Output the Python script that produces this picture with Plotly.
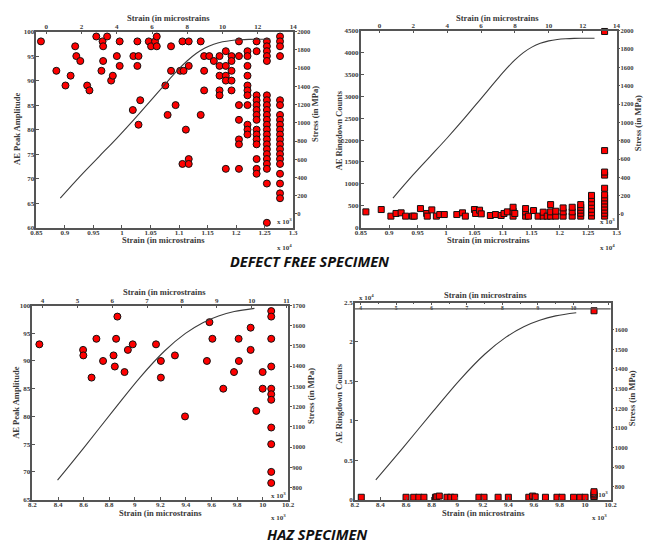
import plotly.graph_objects as go

W, H = 650, 545
def px(x): return x / W
def py(y): return 1 - y / H

# ---------------- DATA ----------------
# Defect free: AE peak amplitude vs strain (x10^4)
df_amp_strain = [0.858, 0.885, 0.901, 0.910, 0.918, 0.920, 0.927, 0.939, 0.943, 0.955,
                 0.964, 0.966, 0.967, 0.967, 0.974, 0.981, 0.984, 0.991, 0.996, 0.996,
                 1.019, 1.020, 1.027, 1.027, 1.029, 1.029, 1.032, 1.047, 1.051, 1.058,
                 1.061, 1.061, 1.076, 1.080, 1.086, 1.086, 1.094, 1.102, 1.106, 1.106,
                 1.108, 1.112, 1.117, 1.117, 1.117, 1.117, 1.138, 1.138, 1.144, 1.144,
                 1.144, 1.153, 1.161,
                 1.171, 1.171, 1.171, 1.171, 1.171,
                 1.182, 1.182, 1.182, 1.182, 1.182,
                 1.192, 1.192, 1.192, 1.192, 1.192,
                 1.205, 1.205, 1.205, 1.205, 1.205, 1.205, 1.205,
                 1.220, 1.220, 1.220, 1.220, 1.220, 1.220, 1.220, 1.220, 1.220, 1.220, 1.220,
                 1.236, 1.236, 1.236, 1.236, 1.236, 1.236, 1.236, 1.236, 1.236, 1.236,
                 1.236, 1.236, 1.236, 1.236, 1.236,
                 1.254, 1.254, 1.254, 1.254, 1.254, 1.254, 1.254, 1.254, 1.254, 1.254,
                 1.254, 1.254, 1.254, 1.254, 1.254, 1.254, 1.254, 1.254, 1.254, 1.254,
                 1.254, 1.254, 1.254,
                 1.277, 1.277, 1.277, 1.277, 1.277, 1.277, 1.277, 1.277, 1.277, 1.277,
                 1.277, 1.277, 1.277, 1.277, 1.277, 1.277, 1.277, 1.277, 1.277, 1.277, 1.277]
df_amp_values = [98, 92, 89, 91, 97, 95, 94, 89, 88, 99,
                 92, 98, 97, 94, 99, 90, 91, 95, 98, 93,
                 84, 95, 98, 93, 95, 81, 86, 98, 97, 98,
                 99, 97, 89, 83, 97, 92, 85, 92, 98, 73,
                 92, 80, 98, 93, 74, 73, 98, 83, 95, 92,
                 88, 95, 94,
                 95, 93, 91, 88, 87,
                 96, 93, 91, 90, 72,
                 95, 94, 92, 90, 88,
                 98, 95, 85, 82, 78, 77, 72,
                 96, 95, 93, 91, 89, 88, 87, 85, 81, 80, 79,
                 98, 96, 87, 86, 85, 84, 83, 82, 80, 79,
                 78, 77, 74, 72, 71,
                 98, 97, 96, 95, 94, 87, 86, 85, 84, 83,
                 82, 81, 80, 79, 78, 77, 76, 75, 74, 73,
                 72, 69, 61,
                 99, 98, 97, 95, 86, 85, 83, 82, 81, 80,
                 79, 78, 77, 76, 75, 74, 73, 71, 69, 67, 66]

# Defect free: AE ringdown counts vs strain (x10^4)
df_cnt_strain = [0.859, 0.886, 0.903, 0.912, 0.921, 0.929, 0.941, 0.944, 0.955, 0.966,
                 0.967, 0.975, 0.983, 0.989, 0.997, 1.019, 1.029, 1.034, 1.050, 1.052,
                 1.059, 1.062, 1.078, 1.087, 1.097, 1.102, 1.108,
                 1.118, 1.118, 1.118, 1.121,
                 1.140, 1.140, 1.140, 1.145, 1.154, 1.162, 1.171, 1.171, 1.178,
                 1.184, 1.184, 1.184, 1.193, 1.193,
                 1.206, 1.206, 1.206, 1.222, 1.222, 1.222,
                 1.237, 1.237, 1.237, 1.237, 1.237,
                 1.256, 1.256, 1.256, 1.256, 1.256, 1.256, 1.256,
                 1.279, 1.279, 1.279, 1.279, 1.279, 1.279, 1.279, 1.279, 1.279, 1.279,
                 1.279, 1.279, 1.279]
df_cnt_values = [361, 414, 263, 324, 339, 263, 263, 263, 436, 324,
                 263, 406, 263, 300, 300, 300, 339, 263, 414, 324,
                 399, 316, 278, 300, 278, 324, 361,
                 263, 376, 466, 324,
                 263, 361, 436, 263, 391, 263, 263, 354, 263,
                 263, 361, 527, 263, 376,
                 263, 361, 451, 263, 361, 466,
                 263, 330, 400, 466, 527,
                 263, 340, 420, 500, 580, 660, 737,
                 263, 330, 400, 470, 540, 610, 680, 750, 900, 1200,
                 1270, 1760, 4480]

# Defect free stress-strain curve (top strain axis x10^3, right stress axis MPa)
df_curve_strain = [0.8, 2, 3, 4, 5, 6, 7, 7.5, 8, 8.5, 9, 9.5, 10, 10.5, 11, 11.5, 12, 12.7]
df_curve_stress = [175, 430, 630, 830, 1040, 1260, 1480, 1585, 1680, 1760, 1820, 1862,
                   1888, 1903, 1911, 1915, 1916, 1916]

# HAZ: AE peak amplitude vs strain (x10^3)
haz_amp_strain = [8.254, 8.596, 8.598, 8.662, 8.700, 8.752, 8.834, 8.844, 8.854, 8.864,
                  8.920, 8.946, 8.984, 9.166, 9.204, 9.204, 9.314, 9.393, 9.564, 9.584,
                  9.607, 9.692, 9.776, 9.812, 9.814, 9.906, 9.906, 9.950, 10.00, 10.00,
                  10.067, 10.067, 10.067, 10.067, 10.067, 10.067, 10.067, 10.067, 10.067,
                  10.067, 10.067]
haz_amp_values = [93, 92, 91, 87, 94, 90, 91, 89, 94, 98,
                  88, 92, 93, 93, 90, 87, 91, 80, 90, 97,
                  94, 85, 88, 94, 90, 92, 96, 81, 88, 85,
                  99, 98, 94, 89, 85, 84, 83, 78, 75, 70, 68]

# HAZ: AE ringdown counts vs strain (x10^3)
haz_cnt_strain = [8.25, 8.60, 8.66, 8.70, 8.74, 8.83, 8.84, 8.86, 8.92, 8.95,
                  8.98, 9.17, 9.21, 9.32, 9.40, 9.56, 9.59, 9.61, 9.69, 9.78,
                  9.82, 9.91, 9.96, 10.00, 10.07, 10.07, 10.07, 10.07, 10.07, 10.07]
haz_cnt_values = [300, 300, 300, 300, 300, 300, 350, 450, 300, 300,
                  300, 300, 300, 300, 300, 300, 450, 350, 300, 300,
                  300, 300, 300, 300, 200, 400, 600, 800, 1000, 23960]

# HAZ stress-strain curve
haz_curve_strain = [4.43, 5.2, 6.05, 6.8, 7.5, 8.1, 8.6, 9.05, 9.5, 10.08]
haz_curve_stress = [836, 1000, 1185, 1345, 1475, 1562, 1615, 1648, 1670, 1686]

# tick labels
df_bottom_ticks = [0.85, 0.9, 0.95, 1.0, 1.05, 1.1, 1.15, 1.2, 1.25, 1.3]
df_bottom_text = ["0.85", "0.9", "0.95", "1", "1.05", "1.1", "1.15", "1.2", "1.25", "1.3"]
df_top_ticks = [0, 2, 4, 6, 8, 10, 12, 14]
df_amp_ticks = [60, 65, 70, 75, 80, 85, 90, 95, 100]
df_cnt_ticks = [0, 500, 1000, 1500, 2000, 2500, 3000, 3500, 4000, 4500]
df_stress_ticks = [0, 200, 400, 600, 800, 1000, 1200, 1400, 1600, 1800, 2000]
haz_bottom_ticks = [8.2, 8.4, 8.6, 8.8, 9.0, 9.2, 9.4, 9.6, 9.8, 10.0, 10.2]
haz_bottom_text = ["8.2", "8.4", "8.6", "8.8", "9", "9.2", "9.4", "9.6", "9.8", "10", "10.2"]
haz_top_ticks = [4, 5, 6, 7, 8, 9, 10, 11]
haz_amp_ticks = [65, 70, 75, 80, 85, 90, 95, 100]
haz_cnt_ticks = [0, 5000, 10000, 15000, 20000, 25000]
haz_cnt_text = ["0", "0.5", "1", "1.5", "2", "2.5"]
haz_stress_ticks = [800, 900, 1000, 1100, 1200, 1300, 1400, 1500, 1600, 1700]

# ---------------- STYLE ----------------
SERIF = "Liberation Serif"
TXT = "#3a3a3a"
AX = "#555555"
TICKFONT = dict(family=SERIF, size=7, color=TXT, weight="bold")
RTICKFONT = dict(family=SERIF, size=6.5, color=TXT, weight="bold")

circle = dict(symbol="circle", size=7, color="#ff0000", line=dict(color="#111", width=1))
square = dict(symbol="square", size=6, color="#ff0000", line=dict(color="#111", width=1))
curve = dict(color="#3c3c3c", width=1.1)

fig = go.Figure()
fig.add_trace(go.Scatter(x=df_amp_strain, y=df_amp_values, mode="markers", marker=circle,
                         xaxis="x", yaxis="y", cliponaxis=False))
fig.add_trace(go.Scatter(x=df_curve_strain, y=df_curve_stress, mode="lines", line=curve,
                         line_shape="spline", xaxis="x2", yaxis="y2"))
fig.add_trace(go.Scatter(x=df_cnt_strain, y=df_cnt_values, mode="markers", marker=square,
                         xaxis="x3", yaxis="y3", cliponaxis=False))
fig.add_trace(go.Scatter(x=df_curve_strain, y=df_curve_stress, mode="lines", line=curve,
                         line_shape="spline", xaxis="x4", yaxis="y4"))
fig.add_trace(go.Scatter(x=haz_amp_strain, y=haz_amp_values, mode="markers", marker=circle,
                         xaxis="x5", yaxis="y5", cliponaxis=False))
fig.add_trace(go.Scatter(x=haz_curve_strain, y=haz_curve_stress, mode="lines", line=curve,
                         line_shape="spline", xaxis="x6", yaxis="y6"))
fig.add_trace(go.Scatter(x=haz_cnt_strain, y=haz_cnt_values, mode="markers", marker=square,
                         xaxis="x7", yaxis="y7", cliponaxis=False))
fig.add_trace(go.Scatter(x=haz_curve_strain, y=haz_curve_stress, mode="lines", line=curve,
                         line_shape="spline", xaxis="x8", yaxis="y8"))

def base(**kw):
    d = dict(showline=True, linecolor=AX, linewidth=1.5, showgrid=False, zeroline=False,
             ticks="inside", ticklen=3, tickwidth=1, tickcolor=AX, tickfont=TICKFONT,
             fixedrange=True)
    d.update(kw)
    return d

def panel(n, xdom, ydom, xr, xt, xtt, tr, tt, yr, yt, ytt, sr, st, top_inside=False):
    xb = f"xaxis{'' if n == 1 else n}"
    yb = f"yaxis{'' if n == 1 else n}"
    xid = "x" if n == 1 else f"x{n}"
    yid = "y" if n == 1 else f"y{n}"
    axes = {}
    axes[xb] = base(domain=xdom, range=xr, tickmode="array", tickvals=xt, ticktext=xtt,
                    anchor=yid, side="bottom", ticklabelstandoff=-3)
    axes[yb] = base(domain=ydom, range=yr, tickmode="array", tickvals=yt, ticktext=ytt,
                    anchor=xid, side="left", ticklabelstandoff=-1)
    top = base(overlaying=xid, anchor=yid, side="top", range=tr, tickmode="array",
               tickvals=tt, ticktext=[str(v) for v in tt], ticklabelstandoff=-2)
    if top_inside:
        top.update(ticklabelposition="inside", tickfont=dict(family=SERIF, size=5.5,
                   color=TXT, weight="bold"), minor=dict(dtick=0.5, ticks="inside",
                   ticklen=2, tickcolor=AX), tickmode="linear", tick0=4, dtick=1,
                   ticklabelstandoff=-1)
    axes[f"xaxis{n+1}"] = top
    axes[f"yaxis{n+1}"] = base(overlaying=yid, anchor=xid, side="right", range=sr,
                               tickmode="array", tickvals=st,
                               ticktext=[str(v) for v in st], ticks="outside", ticklen=2,
                               tickfont=RTICKFONT, ticklabelstandoff=-1)
    return axes

layout_axes = {}
layout_axes.update(panel(1, [px(31), px(293)], [py(227), py(28)],
                         [0.85, 1.3], df_bottom_ticks, df_bottom_text,
                         [-0.555, 14], df_top_ticks,
                         [60, 100], df_amp_ticks, [str(v) for v in df_amp_ticks],
                         [-150, 2000], df_stress_ticks))
layout_axes.update(panel(3, [px(362), px(623)], [py(227), py(27)],
                         [0.85, 1.3], df_bottom_ticks, df_bottom_text,
                         [-1.1, 14], df_top_ticks,
                         [0, 4500], df_cnt_ticks, [str(v) for v in df_cnt_ticks],
                         [-147, 2000], df_stress_ticks))
layout_axes.update(panel(5, [px(27), px(288)], [py(503), py(306)],
                         [8.2, 10.2], haz_bottom_ticks, haz_bottom_text,
                         [3.71, 11.05], haz_top_ticks,
                         [65, 100], haz_amp_ticks, [str(v) for v in haz_amp_ticks],
                         [740, 1700], haz_stress_ticks))
layout_axes.update(panel(7, [px(356), px(617)], [py(503), py(303)],
                         [8.2, 10.2], haz_bottom_ticks, haz_bottom_text,
                         [3.84, 11.05], haz_top_ticks,
                         [0, 25000], haz_cnt_ticks, haz_cnt_text,
                         [735, 1738], haz_stress_ticks, top_inside=True))

ann = []
def label(text, x, y, size=8.5, angle=0, xanchor="center"):
    ann.append(dict(text=text, x=px(x), y=py(y), xref="paper", yref="paper",
                    showarrow=False, textangle=angle, xanchor=xanchor, yanchor="middle",
                    font=dict(family=SERIF, size=size, color=TXT, weight="bold")))

# Defect free - amplitude
label("Strain (in microstrains", 166, 14)
label("Strain (in microstrains", 161, 240)
label("AE Peak Amplitude", 11, 127, angle=-90)
label("Stress (in MPa)", 316, 112, angle=-90)
label("x 10<sup>4</sup>", 284, 247, size=7)
label("x 10<sup>3</sup>", 284, 221, size=7)
# Defect free - counts
label("Strain (in microstrains", 502, 14)
label("Strain (in microstrains", 492, 240)
label("AE Ringdown Counts", 340, 128, angle=-90)
label("Stress (in MPa)", 645, 121, angle=-90)
label("x 10<sup>4</sup>", 614, 247, size=7)
label("x 10<sup>3</sup>", 614, 221, size=7)
# HAZ - amplitude
label("Strain (in microstrains", 162, 292)
label("Strain (in microstrains", 158, 517)
label("AE Peak Amplitude", 10, 405, angle=-90)
label("Stress (in MPa)", 311, 398, angle=-90)
label("x 10<sup>3</sup>", 278, 521, size=7)
label("x 10<sup>3</sup>", 278, 499, size=7)
# HAZ - counts
label("Strain (in microstrains", 489, 295)
label("Strain (in microstrains", 487, 517)
label("AE Ringdown Counts", 340, 405, angle=-90)
label("Stress (in MPa)", 639, 400, angle=-90)
label("x 10<sup>4</sup>", 358, 298, size=7, xanchor="left")
label("x 10<sup>3</sup>", 606, 521, size=7)
label("x 10<sup>3</sup>", 607, 498, size=7)

# Captions
for text, x, y, s in [("DEFECT FREE SPECIMEN", 310, 261, 14.5), ("HAZ SPECIMEN", 318, 538, 14.5)]:
    ann.append(dict(text=f"<b><i>{text}</i></b>", x=px(x), y=py(y), xref="paper",
                    yref="paper", showarrow=False, xanchor="center", yanchor="middle",
                    font=dict(family="Open Sans", size=s, color="#111")))

shapes = [dict(type="line", xref="paper", yref="paper", x0=px(356), x1=px(617),
               y0=py(309.5), y1=py(309.5), line=dict(color=AX, width=1.2))]

fig.update_layout(width=W, height=H, margin=dict(l=0, r=0, t=0, b=0),
                  paper_bgcolor="white", plot_bgcolor="white", showlegend=False,
                  hovermode=False, annotations=ann, shapes=shapes, **layout_axes)

fig.write_html("out.html", config={"displayModeBar": False},
               post_script="document.body.style.margin='0px';")
